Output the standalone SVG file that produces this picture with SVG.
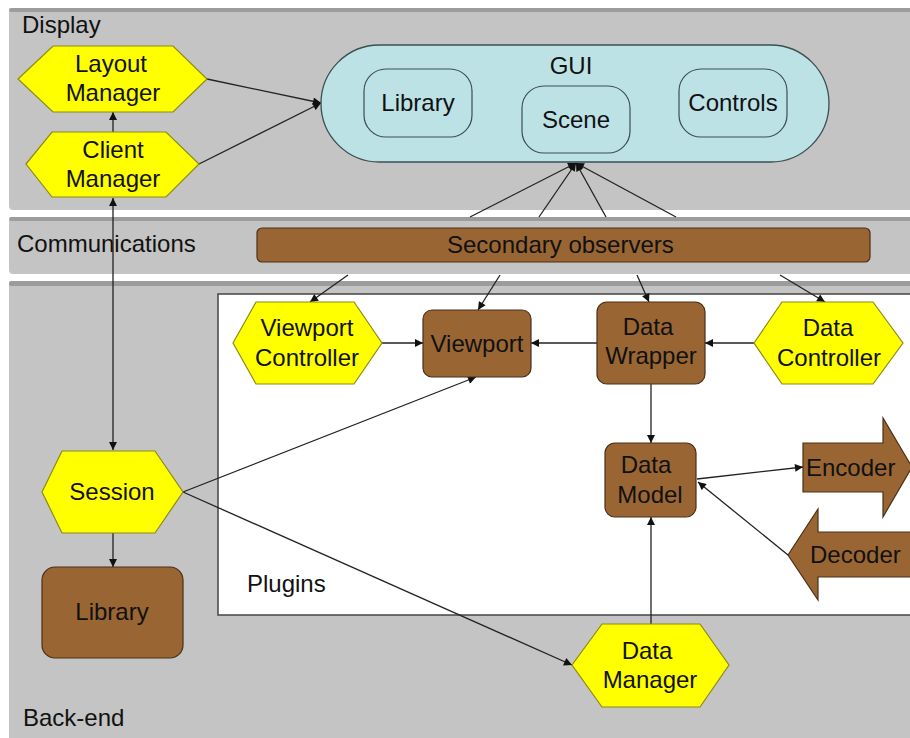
<svg xmlns="http://www.w3.org/2000/svg" width="910" height="738" viewBox="0 0 910 738">
  <style>
    .band { fill: #c4c4c4; }
    .band-edge { fill: #9c9c9c; }
    .lbl { font-family: "Liberation Sans", Arial, sans-serif; font-size: 24px; fill: #111; }
    .mid { text-anchor: middle; }
    .hex { fill: #ffff00; stroke: #8a8a1a; stroke-width: 1.2; }
    .box { fill: #996633; stroke: #4a3018; stroke-width: 1.2; }
    .gui { fill: #bde2e6; stroke: #3c4f52; stroke-width: 1.3; }
    .inner { fill: none; stroke: #3c4f52; stroke-width: 1.2; }
    .plugins { fill: #ffffff; stroke: #444; stroke-width: 1.5; }
    .conn { fill: none; stroke: #222; stroke-width: 1.3; }
  </style>
  <defs>
    <marker id="arrow" viewBox="0 0 10 10" refX="10" refY="5" markerWidth="9" markerHeight="8" markerUnits="userSpaceOnUse" orient="auto-start-reverse">
      <path d="M0,0 L10,5 L0,10 Z" fill="#111"/>
    </marker>
  </defs>

  <rect width="910" height="738" fill="#ffffff"/>

  <!-- layers -->
  <g id="layer-display">
    <rect class="band" x="9" y="8" width="910" height="202" rx="4"/>
    <rect class="band-edge" x="9" y="8" width="910" height="4" rx="2"/>
    <text class="lbl" x="22" y="33">Display</text>
  </g>
  <g id="layer-communications">
    <rect class="band" x="9" y="217" width="910" height="57" rx="4"/>
    <rect class="band-edge" x="9" y="217" width="910" height="4" rx="2"/>
    <text class="lbl" x="17" y="252">Communications</text>
  </g>
  <g id="layer-backend">
    <rect class="band" x="9" y="281" width="910" height="470" rx="4"/>
    <rect class="band-edge" x="9" y="281" width="910" height="5" rx="2"/>
    <text class="lbl" x="23" y="726">Back-end</text>
  </g>
  <g id="plugins">
    <rect class="plugins" x="218" y="294" width="700" height="321"/>
    <text class="lbl" x="247" y="592">Plugins</text>
  </g>

  <!-- connectors -->
  <g id="connectors">
    <line class="conn" x1="207" y1="79" x2="321" y2="103" marker-end="url(#arrow)"/>
    <line class="conn" x1="199" y1="164" x2="321" y2="103" marker-end="url(#arrow)"/>
    <line class="conn" x1="113" y1="132" x2="113" y2="112" marker-end="url(#arrow)"/>
    <line class="conn" x1="113" y1="198" x2="113" y2="450" marker-start="url(#arrow)" marker-end="url(#arrow)"/>
    <line class="conn" x1="470" y1="217" x2="576" y2="163" marker-end="url(#arrow)"/>
    <line class="conn" x1="539" y1="217" x2="576" y2="163" marker-end="url(#arrow)"/>
    <line class="conn" x1="606" y1="217" x2="576" y2="163" marker-end="url(#arrow)"/>
    <line class="conn" x1="676" y1="217" x2="576" y2="163" marker-end="url(#arrow)"/>
    <line class="conn" x1="348" y1="275" x2="310" y2="302" marker-end="url(#arrow)"/>
    <line class="conn" x1="500" y1="275" x2="478" y2="310" marker-end="url(#arrow)"/>
    <line class="conn" x1="637" y1="275" x2="649" y2="302" marker-end="url(#arrow)"/>
    <line class="conn" x1="780" y1="275" x2="825" y2="302" marker-end="url(#arrow)"/>
    <line class="conn" x1="382" y1="343" x2="423" y2="343" marker-end="url(#arrow)"/>
    <line class="conn" x1="597" y1="343" x2="531" y2="343" marker-end="url(#arrow)"/>
    <line class="conn" x1="754" y1="343" x2="705" y2="343" marker-end="url(#arrow)"/>
    <line class="conn" x1="651" y1="384" x2="651" y2="443" marker-end="url(#arrow)"/>
    <line class="conn" x1="651" y1="624" x2="651" y2="517" marker-end="url(#arrow)"/>
    <line class="conn" x1="697" y1="479" x2="803" y2="467" marker-end="url(#arrow)"/>
    <line class="conn" x1="788" y1="555" x2="698" y2="482" marker-end="url(#arrow)"/>
    <line class="conn" x1="183" y1="492" x2="476" y2="377" marker-end="url(#arrow)"/>
    <line class="conn" x1="183" y1="492" x2="572" y2="665" marker-end="url(#arrow)"/>
    <line class="conn" x1="113" y1="533" x2="113" y2="567" marker-end="url(#arrow)"/>
  </g>

  <!-- display layer nodes -->
  <g id="gui">
    <rect class="gui" x="321" y="45" width="508" height="117" rx="58.5"/>
    <text class="lbl mid" x="571" y="74">GUI</text>
  </g>
  <g id="gui-library">
    <rect class="inner" x="364" y="69" width="108" height="68" rx="22"/>
    <text class="lbl mid" x="418" y="111">Library</text>
  </g>
  <g id="gui-scene">
    <rect class="inner" x="522" y="86" width="108" height="67" rx="22"/>
    <text class="lbl mid" x="576" y="128">Scene</text>
  </g>
  <g id="gui-controls">
    <rect class="inner" x="679" y="69" width="108" height="68" rx="22"/>
    <text class="lbl mid" x="733" y="111">Controls</text>
  </g>
  <g id="layout-manager">
    <polygon class="hex" points="18,79 53,46 173,46 207,79 173,112 53,112"/>
    <text class="lbl mid" x="111" y="72">Layout</text>
    <text class="lbl mid" x="113" y="101">Manager</text>
  </g>
  <g id="client-manager">
    <polygon class="hex" points="26,164 52,132 166,132 199,164 166,197 52,197"/>
    <text class="lbl mid" x="113" y="158">Client</text>
    <text class="lbl mid" x="113" y="187">Manager</text>
  </g>

  <!-- communications -->
  <g id="secondary-observers">
    <rect class="box" x="257" y="228" width="613" height="34" rx="5"/>
    <text class="lbl" x="447" y="253">Secondary observers</text>
  </g>

  <!-- back-end nodes -->
  <g id="viewport-controller">
    <polygon class="hex" points="233,343 256,302 354,302 382,343 354,384 256,384"/>
    <text class="lbl mid" x="307" y="336">Viewport</text>
    <text class="lbl mid" x="307" y="366">Controller</text>
  </g>
  <g id="viewport">
    <rect class="box" x="423" y="310" width="108" height="67" rx="9"/>
    <text class="lbl mid" x="477" y="352">Viewport</text>
  </g>
  <g id="data-wrapper">
    <rect class="box" x="597" y="302" width="108" height="82" rx="10"/>
    <text class="lbl mid" x="648" y="335">Data</text>
    <text class="lbl mid" x="651" y="364">Wrapper</text>
  </g>
  <g id="data-controller">
    <polygon class="hex" points="754,343 782,302 873,302 903,343 873,384 782,384"/>
    <text class="lbl mid" x="828" y="336">Data</text>
    <text class="lbl mid" x="829" y="366">Controller</text>
  </g>
  <g id="data-model">
    <rect class="box" x="605" y="443" width="91" height="74" rx="10"/>
    <text class="lbl mid" x="646" y="473">Data</text>
    <text class="lbl mid" x="650" y="503">Model</text>
  </g>
  <g id="encoder">
    <polygon class="box" points="803,443 883,443 883,418 912,467 883,517 883,492 803,492"/>
    <text class="lbl" x="806" y="476">Encoder</text>
  </g>
  <g id="decoder">
    <polygon class="box" points="788,555 818,509 818,532 912,532 912,577 818,577 818,600"/>
    <text class="lbl" x="810" y="563">Decoder</text>
  </g>
  <g id="session">
    <polygon class="hex" points="42,492 62,451 155,451 183,492 155,533 62,533"/>
    <text class="lbl mid" x="112" y="500">Session</text>
  </g>
  <g id="library">
    <rect class="box" x="42" y="567" width="141" height="91" rx="13"/>
    <text class="lbl mid" x="112" y="620">Library</text>
  </g>
  <g id="data-manager">
    <polygon class="hex" points="572,665 602,624 700,624 729,665 700,707 602,707"/>
    <text class="lbl mid" x="647" y="659">Data</text>
    <text class="lbl mid" x="650" y="688">Manager</text>
  </g>
</svg>
